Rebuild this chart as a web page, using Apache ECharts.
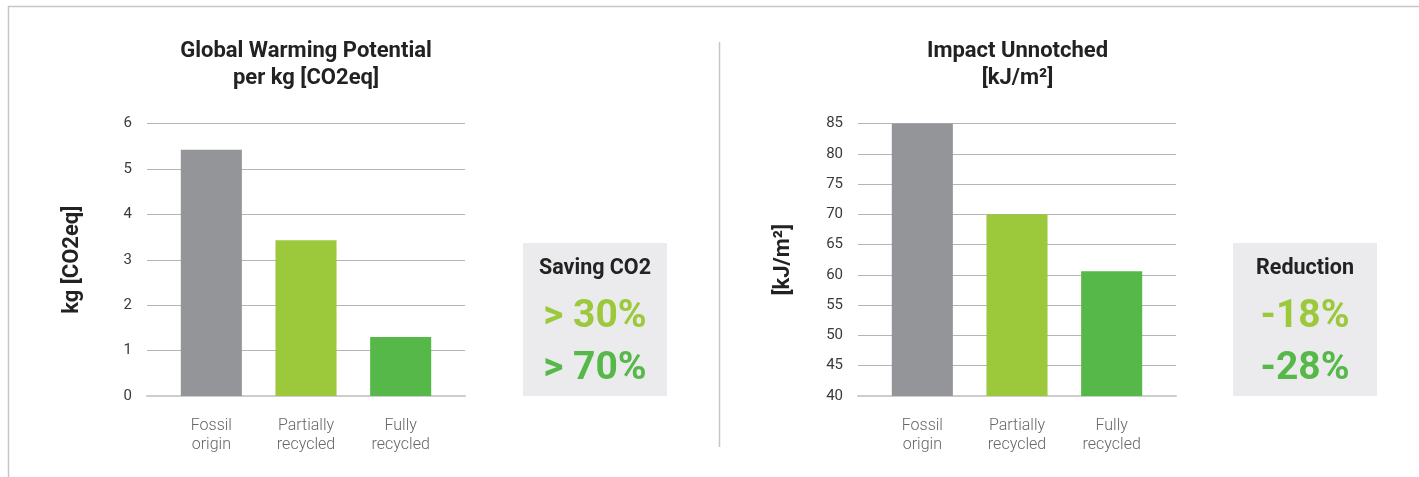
<!DOCTYPE html>
<html>
<head>
<meta charset="utf-8">
<script src="https://cdn.jsdelivr.net/npm/echarts@6/dist/echarts.min.js"></script>
<style>
  html, body { margin: 0; padding: 0; background: #fff; }
  #main { width: 1419px; height: 477px; }
</style>
</head>
<body>
<div id="main"></div>
<script>
// data
var categories = ["Fossil\norigin", "Partially\nrecycled", "Fully\nrecycled"];
var gwpValues = [5.42, 3.43, 1.3];
var impactValues = [85, 70, 60.6];
var gwpTicks = [0, 6, 1];      // min, max, interval
var impactTicks = [40, 85, 5];
var savingTitle = "Saving CO2";
var savingLines = ["> 30%", "> 70%"];
var reductionTitle = "Reduction";
var reductionLines = ["-18%", "-28%"];

var barColors = ["#949598", "#9bc93b", "#56b848"];
var font = "Roboto, 'Noto Sans', sans-serif";

var myChart = echarts.init(document.getElementById("main"));

// grid with the horizontal lines (wide) and grid with the bars (narrower)
function lineGrid(left) {
  return { left: left, width: 318, top: 123.5, height: 272.5 };
}
function barGrid(left) {
  return { left: left + 17, width: 284, top: 123.5, height: 272.5 };
}

function valueAxis(gridIndex, ticks, name, show) {
  return {
    type: "value",
    gridIndex: gridIndex,
    min: ticks[0],
    max: ticks[1],
    interval: ticks[2],
    show: show,
    name: name,
    nameLocation: "middle",
    nameRotate: 90,
    nameGap: 64,
    nameTextStyle: { fontFamily: font, fontSize: 22, fontWeight: "bold", color: "#222" },
    axisLine: { show: false },
    axisTick: { show: false },
    axisLabel: { margin: 15, fontFamily: font, fontSize: 15, color: "#3a3a3a" },
    splitLine: { show: show, lineStyle: { color: "#b4b4b4", width: 1.2 } }
  };
}

function catAxis(gridIndex, show) {
  return {
    type: "category",
    gridIndex: gridIndex,
    data: categories,
    show: true,
    axisTick: { show: false },
    axisLine: show
      ? { show: true, lineStyle: { color: "#cdcdcd", width: 2 } }
      : { show: false },
    axisLabel: show
      ? { show: false }
      : { show: true, margin: 20, fontFamily: font, fontSize: 16, lineHeight: 19, color: "#666", fontWeight: 300 }
  };
}

function barSeries(xi, yi, values) {
  return {
    type: "bar",
    xAxisIndex: xi,
    yAxisIndex: yi,
    barCategoryGap: "35.5%",
    data: values.map(function(v, i) {
      return { value: v, itemStyle: { color: barColors[i] } };
    }),
    z: 3
  };
}

function infoBox(x, title, lines) {
  var cx = x + 72;
  return [
    { type: "rect", shape: { x: x, y: 243, width: 144, height: 153 }, style: { fill: "#ebebed" }, z: 1 },
    { type: "text", style: { x: cx, y: 268.5, text: title, textAlign: "center", textVerticalAlign: "middle",
      font: "bold 21.5px " + font, fill: "#222" }, z: 2 },
    { type: "text", style: { x: cx, y: 317, text: lines[0], textAlign: "center", textVerticalAlign: "middle",
      font: "bold 39px " + font, fill: barColors[1] }, z: 2 },
    { type: "text", style: { x: cx, y: 369, text: lines[1], textAlign: "center", textVerticalAlign: "middle",
      font: "bold 39px " + font, fill: barColors[2] }, z: 2 }
  ];
}

var option = {
  backgroundColor: "#fff",
  animation: false,
  grid: [lineGrid(147), barGrid(147), lineGrid(858), barGrid(858)],
  xAxis: [catAxis(0, true), catAxis(1, false), catAxis(2, true), catAxis(3, false)],
  yAxis: [
    valueAxis(0, gwpTicks, "kg [CO2eq]", true),
    valueAxis(1, gwpTicks, "", false),
    valueAxis(2, impactTicks, "[kJ/m²]", true),
    valueAxis(3, impactTicks, "", false)
  ],
  series: [barSeries(1, 1, gwpValues), barSeries(3, 3, impactValues)],
  graphic: [
    // outer frame
    { type: "line", shape: { x1: 8, y1: 6.5, x2: 1419, y2: 6.5 }, style: { stroke: "#c6c6c6", lineWidth: 1.5 } },
    { type: "line", shape: { x1: 8.5, y1: 6, x2: 8.5, y2: 477 }, style: { stroke: "#c6c6c6", lineWidth: 1.5 } },
    // divider
    { type: "line", shape: { x1: 719.5, y1: 42, x2: 719.5, y2: 447 }, style: { stroke: "#c6c6c6", lineWidth: 1.5 } },
    // titles
    { type: "text", style: { x: 306, y: 64.5, text: "Global Warming Potential\nper kg [CO2eq]", textAlign: "center",
      textVerticalAlign: "middle", font: "bold 22px " + font, lineHeight: 27, fill: "#222" } },
    { type: "text", style: { x: 1017.5, y: 64.5, text: "Impact Unnotched\n[kJ/m²]", textAlign: "center",
      textVerticalAlign: "middle", font: "bold 22px " + font, lineHeight: 27, fill: "#222" } }
  ].concat(infoBox(523, savingTitle, savingLines), infoBox(1233, reductionTitle, reductionLines))
};

myChart.setOption(option);
</script>
</body>
</html>
